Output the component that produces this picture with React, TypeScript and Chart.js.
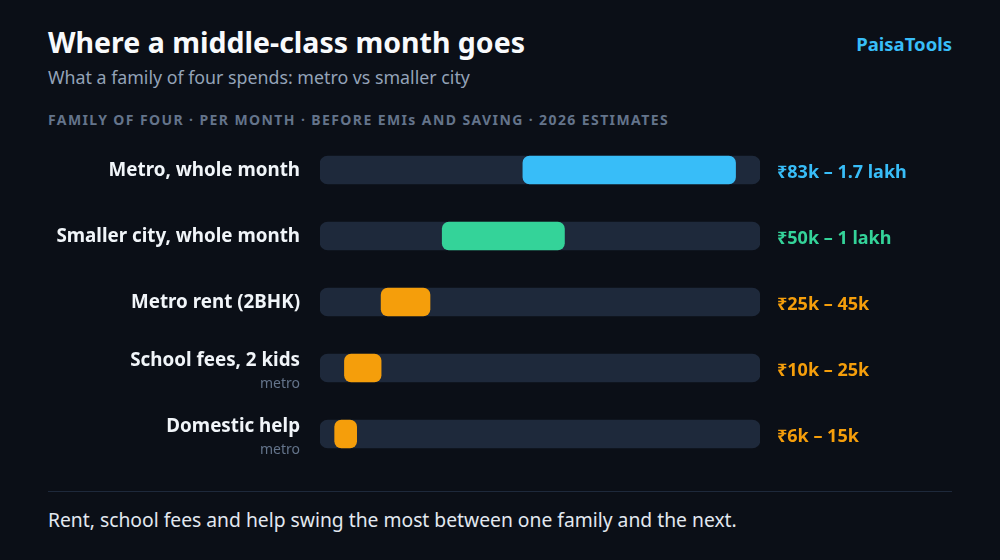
import { useEffect, useRef } from 'react';
import { Chart, registerables } from 'chart.js';

Chart.register(...registerables);

const FONT = '"Noto Sans", "Open Sans", sans-serif';

const categories = [
    'Metro, whole month',
    'Smaller city, whole month',
    'Metro rent (2BHK)',
    'School fees, 2 kids',
    'Domestic help',
];
const subLabels = ['', '', '', 'metro', 'metro'];
const lowValues = [83000, 50000, 25000, 10000, 6000];
const highValues = [170000, 100000, 45000, 25000, 15000];
const rangeLabels = ['₹83k – 1.7 lakh', '₹50k – 1 lakh', '₹25k – 45k', '₹10k – 25k', '₹6k – 15k'];
const barColors = ['#38bdf8', '#34d399', '#f59e0b', '#f59e0b', '#f59e0b'];
const scaleMax = 180000;

const labelPlugin = {
    id: 'rowLabels',
    afterDatasetsDraw(chart: Chart) {
        const { ctx, scales, chartArea } = chart;
        const y = scales.y;
        ctx.save();
        categories.forEach((name, i) => {
            const cy = y.getPixelForValue(i);
            const hasSub = subLabels[i] !== '';
            ctx.textAlign = 'right';
            ctx.textBaseline = 'middle';
            ctx.fillStyle = '#f1f5f9';
            ctx.font = `bold 18.8px ${FONT}`;
            ctx.fillText(name, chartArea.left - 20, hasSub ? cy - 7 : cy + 1);
            if (hasSub) {
                ctx.fillStyle = '#64748b';
                ctx.font = `14px ${FONT}`;
                ctx.fillText(subLabels[i], chartArea.left - 20, cy + 16);
            }
            ctx.textAlign = 'left';
            ctx.fillStyle = barColors[i];
            ctx.font = `bold 18px ${FONT}`;
            ctx.fillText(rangeLabels[i], chartArea.right + 17, cy + 3);
        });
        ctx.restore();
    },
};

function RangeChart() {
    const canvasRef = useRef<HTMLCanvasElement>(null);

    useEffect(() => {
        if (!canvasRef.current) return;
        const chart = new Chart(canvasRef.current, {
            type: 'bar',
            data: {
                labels: categories,
                datasets: [
                    {
                        label: 'Range',
                        data: lowValues.map((lo, i) => [lo, highValues[i]]),
                        backgroundColor: barColors,
                        borderRadius: 7,
                        borderSkipped: false,
                        barThickness: 28,
                        grouped: false,
                        order: 0,
                    },
                    {
                        label: 'Track',
                        data: categories.map(() => [0, scaleMax]),
                        backgroundColor: '#1e293b',
                        borderRadius: 8,
                        borderSkipped: false,
                        barThickness: 28,
                        grouped: false,
                        order: 1,
                    },
                ],
            },
            options: {
                indexAxis: 'y',
                responsive: true,
                maintainAspectRatio: false,
                animation: false,
                layout: { padding: { left: 320, right: 240, top: 0, bottom: 0 } },
                scales: {
                    x: { display: false, min: 0, max: scaleMax },
                    y: { display: false },
                },
                plugins: {
                    legend: { display: false },
                    tooltip: { enabled: false },
                },
            },
            plugins: [labelPlugin],
        });
        return () => chart.destroy();
    }, []);

    return <canvas ref={canvasRef} />;
}

export default function App() {
    useEffect(() => {
        document.body.style.margin = '0';
        document.body.style.background = '#0b0f17';
    }, []);

    return (
        <div style={{ position: 'relative', width: 1000, height: 560, background: '#0b0f17', fontFamily: FONT, overflow: 'hidden' }}>
            <div style={{ position: 'absolute', left: 48, top: 24, fontSize: 28.5, fontWeight: 700, color: '#f8fafc', lineHeight: '36px' }}>
                Where a middle-class month goes
            </div>
            <div style={{ position: 'absolute', right: 48, top: 31, fontSize: 18.5, fontWeight: 700, color: '#38bdf8', lineHeight: '26px' }}>
                PaisaTools
            </div>
            <div style={{ position: 'absolute', left: 48, top: 64, fontSize: 17.8, color: '#94a3b8', lineHeight: '26px' }}>
                What a family of four spends: metro vs smaller city
            </div>
            <div style={{ position: 'absolute', left: 48, top: 111, fontSize: 14, fontWeight: 700, color: '#64748b', letterSpacing: '1.4px', lineHeight: '18px' }}>
                FAMILY OF FOUR · PER MONTH · BEFORE EMIs AND SAVING · 2026 ESTIMATES
            </div>
            <div style={{ position: 'absolute', left: 0, top: 137, width: 1000, height: 330 }}>
                <RangeChart />
            </div>
            <div style={{ position: 'absolute', left: 48, top: 491, width: 904, height: 1, background: '#1e293b' }} />
            <div style={{ position: 'absolute', left: 48, top: 507, fontSize: 19.3, color: '#e2e8f0', lineHeight: '26px' }}>
                Rent, school fees and help swing the most between one family and the next.
            </div>
        </div>
    );
}
